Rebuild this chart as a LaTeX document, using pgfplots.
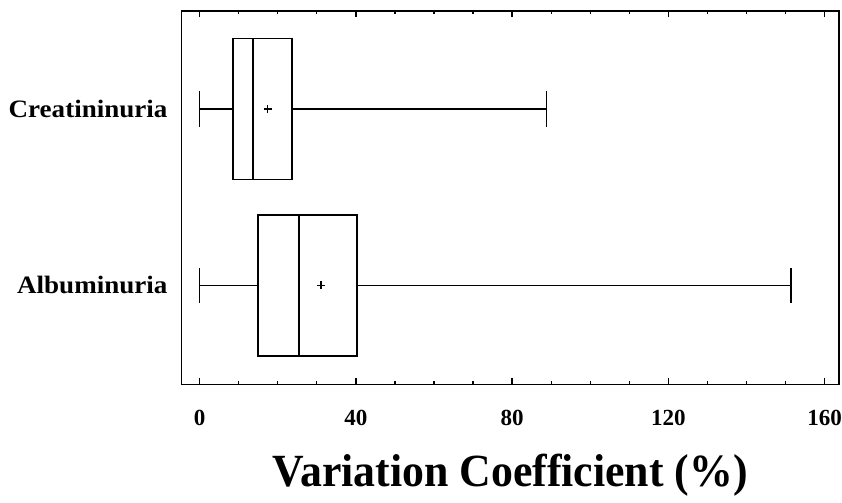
\documentclass[border={1pt 0pt 0pt 5pt}]{standalone}
\usepackage{fontspec}
\setmainfont{Liberation Serif}
\newfontfamily\condfont[FakeStretch=0.95]{Liberation Serif}
\newfontfamily\widefont[FakeStretch=1.08]{Liberation Serif}
\usepackage{pgfplots}
\pgfplotsset{compat=1.18}
\usepgfplotslibrary{statistics}
\begin{document}
\begin{tikzpicture}
\begin{axis}[
    scale only axis,
    width=328pt, height=186.5pt,
    xmin=-4.6, xmax=163.6,
    ymin=0.4375, ymax=2.557,
    xtick={0,40,80,120,160},
    minor x tick num=3,
    ytick={1,2},
    yticklabels={Albuminuria,Creatininuria},
    ytick style={draw=none},
    tick align=inside,
    xtick pos=both,
    major tick length=3pt,
    minor tick length=1.5pt,
    every tick/.style={black, line width=0.7pt},
    axis line style={line width=0.8pt},
    xticklabel style={font=\fontsize{11.5}{12}\selectfont\bfseries, yshift=-9.5pt, inner xsep=0pt},
    yticklabel style={font=\widefont\fontsize{12.5}{13}\selectfont\bfseries, xshift=-3.5pt},
    /pgf/number format/assume math mode=true,
    xlabel={Variation Coefficient (\%)},
    xlabel style={font=\condfont\fontsize{23}{25}\selectfont\bfseries, yshift=-7pt},
    boxplot/box extend=0.8,
    boxplot/whisker extend=0.2,
    boxplot/every box/.style={line width=0.8pt},
    boxplot/every whisker/.style={line width=0.8pt},
    boxplot/every median/.style={line width=0.8pt},
    boxplot/every average/.style={/tikz/mark=+, /tikz/mark size=2pt, /tikz/line width=0.8pt},
]
% Albuminuria
\addplot+[black, solid, line width=0.8pt, mark=+,
    boxplot prepared={draw position=1,
        lower whisker=0, lower quartile=14.9, median=25.4,
        upper quartile=40.3, upper whisker=151.3, average=31.1}]
    coordinates {};
% Creatininuria
\addplot+[black, solid, line width=0.8pt, mark=+,
    boxplot prepared={draw position=2,
        lower whisker=0, lower quartile=8.5, median=13.7,
        upper quartile=23.7, upper whisker=88.8, average=17.4}]
    coordinates {};
\end{axis}
\end{tikzpicture}
\end{document}
